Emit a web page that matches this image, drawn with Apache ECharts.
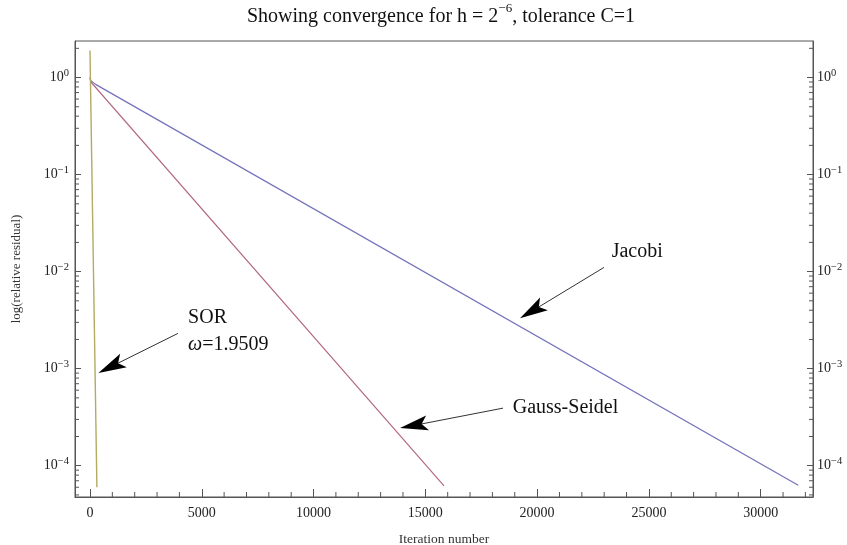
<!DOCTYPE html>
<html><head><meta charset="utf-8">
<script src="https://cdn.jsdelivr.net/npm/echarts@6/dist/echarts.min.js"></script>
<style>html,body{margin:0;padding:0;background:#fff}#c{width:847px;height:545px}</style>
</head><body><div id="c"></div>
<script>
// ---- data ----
const xRange = [-670, 32340];
const yRange = [4.76e-5, 2.38];
const jacobi = [[0, 1.0], [40, 0.93], [250, 0.85], [31680, 6.3e-5]];
const gaussSeidel = [[0, 1.0], [40, 0.9], [15836, 6.2e-5]];
const sor = [[0, 1.9], [310, 6.0e-5]];
// tick marks
const xMinorTicks = [1000,2000,3000,4000,6000,7000,8000,9000,11000,12000,13000,14000,
  16000,17000,18000,19000,21000,22000,23000,24000,26000,27000,28000,29000,31000,32000];
const yMinorMantissas = [2,3,4,5,6,7,8,9];
const yMinorDecades = [1e-5,1e-4,1e-3,1e-2,1e-1,1];
// annotations: [text, x, y] anchor in data coords, arrows: [tailX, tailY, tipX, tipY]
const labels = [
  ['SOR', 4388, 3.37e-3, 'normal'],
  ['ω=1.9509', 4388, 1.78e-3, 'omega'],
  ['Gauss-Seidel', 18909, 3.92e-4, 'normal'],
  ['Jacobi', 23336, 1.61e-2, 'normal']
];
const arrows = [
  [3936, 2.31e-3, 376, 9.04e-4],
  [18475, 3.92e-4, 13869, 2.44e-4],
  [22992, 1.105e-2, 19235, 3.30e-3]
];

const FONT = '"Liberation Serif", "Times New Roman", serif';
const FRAME = '#555';

const yMinor = [];
yMinorDecades.forEach(d => yMinorMantissas.forEach(m => {
  const v = m * d;
  if (v > yRange[0] && v < yRange[1]) yMinor.push(v);
}));

function powLabel(v) {
  const e = Math.round(Math.log10(v));
  if (Math.abs(Math.log10(v) - e) > 1e-6) return '';
  const es = e < 0 ? '\u2212' + (-e) : String(e);
  return '{b|10}{s|' + es + '}';
}
const labelRich = {
  b: {fontFamily: FONT, fontSize: 14, lineHeight: 20, color: '#222'},
  s: {fontFamily: FONT, fontSize: 10.5, lineHeight: 10, verticalAlign: 'top', color: '#222'}
};
function yAxisCfg(pos) {
  return {
    type: 'log', logBase: 10, min: yRange[0], max: yRange[1], position: pos,
    axisLine: {show: true, onZero: false, lineStyle: {color: FRAME, width: 1}},
    axisTick: {show: true, inside: true, length: 6, lineStyle: {color: FRAME}},
    splitLine: {show: false}, minorTick: {show: false},
    axisLabel: {showMinLabel: false, showMaxLabel: false, margin: pos === 'left' ? 6 : 4,
      formatter: powLabel, rich: labelRich},
    name: pos === 'left' ? 'log(relative residual)' : '',
    nameLocation: 'middle', nameRotate: 90, nameGap: 52,
    nameTextStyle: {fontFamily: FONT, fontSize: 13, color: '#333'}
  };
}

const chart = echarts.init(document.getElementById('c'));
chart.setOption({
  animation: false,
  backgroundColor: '#fff',
  title: {
    text: '{a|Showing convergence for h = 2}{s|\u22126}{a|, tolerance C=1}',
    left: 441, top: 2, textAlign: 'center', padding: 0,
    textStyle: {fontWeight: 'normal', rich: {
      a: {fontFamily: FONT, fontSize: 20, fontWeight: 'normal', lineHeight: 30, color: '#111'},
      s: {fontFamily: FONT, fontSize: 13, fontWeight: 'normal', lineHeight: 13, verticalAlign: 'top', color: '#111'}
    }}
  },
  grid: {left: 75, right: 34, top: 41, bottom: 48, show: true, borderColor: FRAME, borderWidth: 1,
    containLabel: false, outerBoundsMode: 'none'},
  xAxis: {
    type: 'value', min: xRange[0], max: xRange[1], splitNumber: 5,
    axisLine: {show: true, onZero: false, lineStyle: {color: FRAME, width: 1}},
    axisTick: {show: true, inside: true, length: 8, lineStyle: {color: FRAME}},
    splitLine: {show: false},
    axisLabel: {showMinLabel: false, showMaxLabel: false, margin: 9,
      fontFamily: FONT, fontSize: 14, color: '#222',
      formatter: v => (v % 1000 === 0 ? String(v) : '')},
    name: 'Iteration number', nameLocation: 'middle', nameGap: 35,
    nameTextStyle: {fontFamily: FONT, fontSize: 13.5, color: '#333'}
  },
  yAxis: [yAxisCfg('left'), yAxisCfg('right')],
  series: [
    {name: 'Jacobi', type: 'line', data: jacobi, showSymbol: false, symbol: 'none',
      lineStyle: {color: '#7272bc', width: 1.2}, z: 3},
    {name: 'Gauss-Seidel', type: 'line', data: gaussSeidel, showSymbol: false, symbol: 'none',
      lineStyle: {color: '#b46c86', width: 1.2}, z: 3},
    {name: 'SOR', type: 'line', data: sor, showSymbol: false, symbol: 'none',
      lineStyle: {color: '#b3ab62', width: 1.4}, z: 3},
    {type: 'custom', silent: true, clip: false, z: 5,
      data: yMinor.map(v => [xRange[0], v]),
      encode: {x: 0, y: 1},
      renderItem: (params, api) => {
        const v = api.value(1);
        const p = api.coord([xRange[0], v]);
        const q = api.coord([xRange[1], v]);
        const st = {stroke: FRAME, lineWidth: 1};
        return {type: 'group', children: [
          {type: 'line', shape: {x1: p[0], y1: p[1], x2: p[0] + 4, y2: p[1]}, style: st},
          {type: 'line', shape: {x1: q[0] - 4, y1: q[1], x2: q[0], y2: q[1]}, style: st}
        ]};
      }},
    {type: 'custom', silent: true, clip: false, z: 5,
      data: xMinorTicks.map(v => [v, yRange[0]]),
      encode: {x: 0, y: 1},
      renderItem: (params, api) => {
        const p = api.coord([api.value(0), yRange[0]]);
        return {type: 'line', shape: {x1: p[0], y1: p[1], x2: p[0], y2: p[1] - 5},
          style: {stroke: FRAME, lineWidth: 1}};
      }}
  ]
});

// annotations anchored to data coordinates
const g = [];
arrows.forEach(a => {
  const t0 = chart.convertToPixel({gridIndex: 0}, [a[0], a[1]]);
  const t1 = chart.convertToPixel({gridIndex: 0}, [a[2], a[3]]);
  const dx = t1[0] - t0[0], dy = t1[1] - t0[1];
  const len = Math.sqrt(dx * dx + dy * dy);
  const ux = dx / len, uy = dy / len, nx = -uy, ny = ux;
  const L = 28, W = 7.5, N = 6;
  const bx = t1[0] - L * ux, by = t1[1] - L * uy;
  const mx = t1[0] - (L - N) * ux, my = t1[1] - (L - N) * uy;
  g.push({type: 'line', silent: true, z: 10,
    shape: {x1: t0[0], y1: t0[1], x2: mx, y2: my}, style: {stroke: '#333', lineWidth: 1}});
  g.push({type: 'polygon', silent: true, z: 10,
    shape: {points: [[t1[0], t1[1]], [bx + W * nx, by + W * ny], [mx, my], [bx - W * nx, by - W * ny]]},
    style: {fill: '#000'}});
});
labels.forEach(l => {
  const p = chart.convertToPixel({gridIndex: 0}, [l[1], l[2]]);
  if (l[3] === 'omega') {
    g.push({type: 'text', x: p[0], y: p[1], z: 10, silent: true,
      style: {text: '{i|ω}{n|=1.9509}', verticalAlign: 'middle', align: 'left',
        rich: {i: {fontFamily: FONT, fontSize: 20, fontStyle: 'italic', fill: '#111'},
               n: {fontFamily: FONT, fontSize: 20, fill: '#111'}}}});
  } else {
    g.push({type: 'text', x: p[0], y: p[1], z: 10, silent: true,
      style: {text: l[0], fontFamily: FONT, fontSize: 20, fill: '#111', verticalAlign: 'middle', align: 'left'}});
  }
});
chart.setOption({graphic: g});
</script>
</body></html>
